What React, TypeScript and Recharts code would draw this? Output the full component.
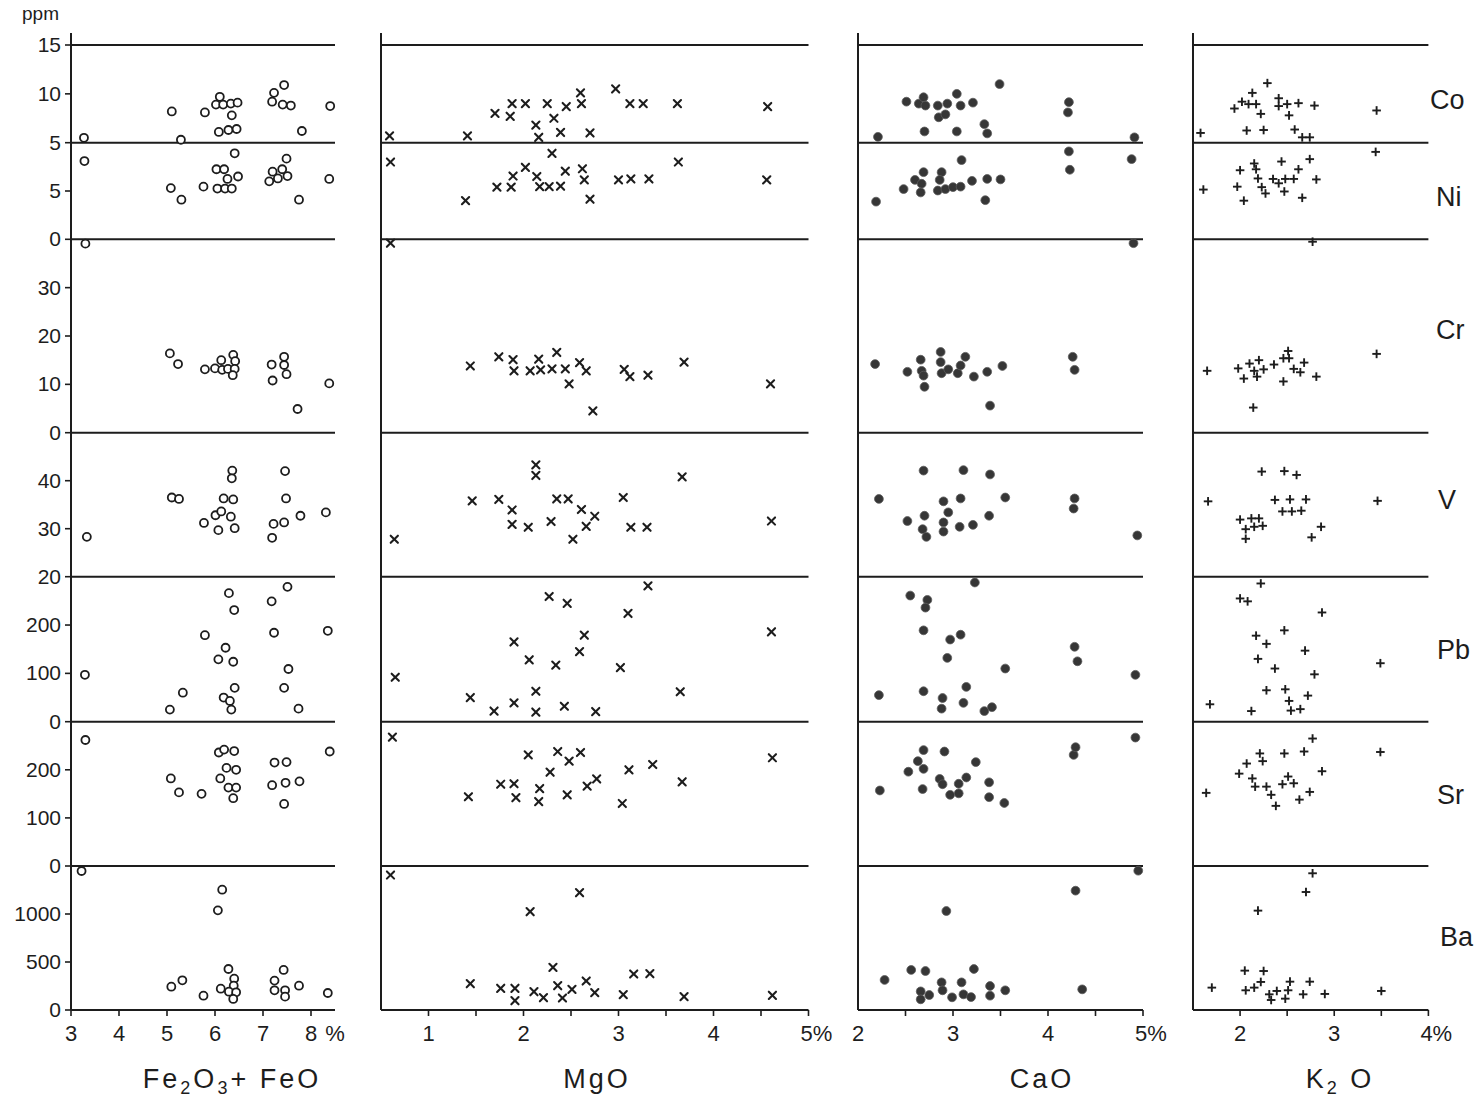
import React from 'react';
import { ScatterChart, Scatter, XAxis, YAxis, ReferenceLine } from 'recharts';

type P = [number, number];

// ---------- data: Fe2O3 + FeO (%) vs ppm ----------
const feCo: P[] = [[3.27,5.5],[5.10,8.2],[5.29,5.3],[5.79,8.1],[6.02,8.9],[6.10,9.7],[6.17,8.9],[6.33,9.0],[6.47,9.1],[6.35,7.8],[6.08,6.1],[6.28,6.3],[6.45,6.4],[7.19,9.2],[7.23,10.1],[7.44,10.9],[7.41,8.9],[7.58,8.8],[7.81,6.2],[8.40,8.75]];
const feNi: P[] = [[3.28,8.1],[5.08,5.3],[5.30,4.1],[5.76,5.45],[6.05,5.25],[6.21,5.25],[6.35,5.25],[6.03,7.25],[6.19,7.25],[6.26,6.25],[6.48,6.5],[6.41,8.9],[7.13,6.0],[7.20,7.0],[7.31,6.3],[7.40,7.25],[7.51,6.55],[7.49,8.35],[7.75,4.1],[8.38,6.25]];
const feCr: P[] = [[3.30,39.1],[5.06,16.4],[5.23,14.2],[5.79,13.1],[6.00,13.3],[6.13,15.0],[6.15,13.0],[6.27,13.2],[6.38,16.1],[6.42,14.8],[6.41,13.2],[6.37,11.9],[7.18,14.1],[7.20,10.8],[7.44,15.7],[7.44,14.0],[7.49,12.1],[7.72,4.9],[8.38,10.2]];
const feV: P[] = [[3.33,28.3],[5.10,36.5],[5.25,36.2],[6.36,42.1],[6.35,40.5],[6.18,36.3],[6.38,36.1],[5.77,31.2],[6.01,32.8],[6.13,33.6],[6.33,32.5],[6.07,29.7],[6.41,30.1],[7.46,42.0],[7.48,36.3],[7.22,31.0],[7.44,31.3],[7.78,32.7],[7.19,28.1],[8.31,33.4]];
const fePb: P[] = [[3.29,97],[5.06,25],[5.33,60],[5.79,179],[6.07,129],[6.22,153],[6.38,124],[6.29,266],[6.40,231],[6.18,50],[6.31,43],[6.41,70],[6.34,25],[7.51,279],[7.18,249],[7.23,184],[7.53,109],[7.44,70],[7.74,27],[8.35,188]];
const feSr: P[] = [[3.30,262],[5.08,182],[5.25,153],[5.72,150],[6.08,236],[6.19,242],[6.40,239],[6.24,204],[6.44,200],[6.11,182],[6.28,163],[6.44,163],[6.38,141],[7.24,215],[7.49,216],[7.19,168],[7.47,173],[7.76,176],[7.44,129],[8.39,238]];
const feBa: P[] = [[3.22,1448],[6.15,1253],[6.06,1038],[5.09,243],[5.32,309],[5.76,149],[6.12,222],[6.28,427],[6.40,326],[6.39,253],[6.29,191],[6.44,184],[6.38,115],[7.24,306],[7.24,205],[7.43,417],[7.46,205],[7.46,139],[7.75,253],[8.35,177]];

// ---------- data: MgO (%) ----------
const mgCo: P[] = [[0.59,5.7],[1.41,5.7],[1.70,8.0],[1.86,7.7],[1.88,9.0],[2.02,9.0],[2.25,9.0],[2.45,8.7],[2.60,10.1],[2.61,9.0],[2.13,6.8],[2.16,5.55],[2.32,7.5],[2.39,6.05],[2.70,6.0],[2.97,10.5],[3.12,9.0],[3.26,9.0],[3.62,9.0],[4.57,8.7]];
const mgNi: P[] = [[0.60,8.0],[1.39,4.0],[1.72,5.4],[1.87,5.4],[1.89,6.55],[2.02,7.45],[2.14,6.5],[2.17,5.45],[2.27,5.45],[2.39,5.5],[2.30,8.9],[2.44,7.05],[2.62,7.3],[2.64,6.15],[2.70,4.15],[3.00,6.15],[3.13,6.25],[3.32,6.25],[3.63,8.0],[4.56,6.15]];
const mgCr: P[] = [[0.60,39.2],[1.44,13.8],[1.74,15.7],[1.89,15.1],[1.90,12.8],[2.07,12.8],[2.16,15.2],[2.18,13.0],[2.30,13.2],[2.35,16.6],[2.44,13.2],[2.48,10.1],[2.59,14.5],[2.66,12.8],[2.73,4.5],[3.06,13.1],[3.12,11.6],[3.31,11.9],[3.69,14.6],[4.60,10.1]];
const mgV: P[] = [[0.64,27.8],[1.46,35.8],[1.74,36.1],[1.88,33.9],[1.88,30.9],[2.05,30.3],[2.13,43.3],[2.13,41.1],[2.29,31.5],[2.35,36.2],[2.47,36.2],[2.52,27.8],[2.61,34.0],[2.66,30.5],[2.75,32.6],[3.05,36.5],[3.13,30.3],[3.30,30.3],[3.67,40.8],[4.61,31.6]];
const mgPb: P[] = [[0.65,92],[1.44,50],[1.69,22],[1.90,39],[1.90,165],[2.06,128],[2.13,63],[2.13,20],[2.27,259],[2.34,117],[2.43,32],[2.46,245],[2.59,145],[2.64,179],[2.76,21],[3.02,112],[3.10,224],[3.31,281],[3.65,62],[4.61,186]];
const mgSr: P[] = [[0.62,268],[2.05,231],[2.36,238],[2.48,218],[2.60,236],[2.28,195],[1.76,170],[1.90,171],[1.42,144],[1.92,142],[2.17,161],[2.16,134],[2.46,148],[2.67,166],[2.77,181],[3.11,200],[3.04,130],[3.36,211],[3.67,175],[4.62,225]];
const mgBa: P[] = [[0.60,1406],[2.59,1222],[2.07,1024],[2.31,444],[1.44,274],[1.76,226],[1.91,226],[1.91,97],[2.11,191],[2.21,128],[2.36,253],[2.41,125],[2.51,215],[2.66,302],[2.75,181],[3.05,160],[3.16,375],[3.33,378],[3.69,139],[4.62,153]];

// ---------- data: CaO (%) ----------
const caCo: P[] = [[2.21,5.6],[2.51,9.2],[2.64,9.0],[2.69,9.65],[2.71,8.8],[2.84,8.8],[2.94,9.0],[3.04,10.0],[3.08,8.8],[3.21,9.1],[2.85,7.6],[2.92,7.9],[2.70,6.15],[3.04,6.15],[3.33,6.9],[3.36,5.95],[3.49,11.0],[4.22,9.15],[4.21,8.1],[4.91,5.55]];
const caNi: P[] = [[2.19,3.9],[2.48,5.2],[2.60,6.15],[2.69,6.95],[2.67,5.75],[2.66,4.85],[2.88,6.95],[2.86,6.15],[2.84,5.05],[2.92,5.2],[3.00,5.4],[3.08,5.45],[3.09,8.2],[3.20,6.05],[3.36,6.25],[3.50,6.2],[3.34,4.05],[4.22,9.1],[4.23,7.2],[4.88,8.3]];
const caCr: P[] = [[4.90,39.2],[2.18,14.2],[2.52,12.6],[2.66,15.1],[2.67,12.8],[2.69,11.8],[2.70,9.5],[2.87,16.7],[2.87,14.6],[2.88,12.3],[2.95,13.1],[3.05,12.3],[3.08,13.9],[3.13,15.7],[3.22,11.6],[3.36,12.6],[3.52,13.8],[3.39,5.6],[4.26,15.7],[4.28,13.0]];
const caV: P[] = [[2.22,36.2],[2.69,42.1],[3.11,42.2],[3.39,41.3],[3.08,36.3],[2.90,35.7],[3.55,36.5],[2.95,33.4],[2.70,32.7],[2.52,31.6],[2.90,31.3],[3.38,32.7],[2.68,29.9],[2.72,28.3],[2.90,29.4],[3.07,30.4],[3.21,30.8],[4.28,36.3],[4.27,34.2],[4.94,28.6]];
const caPb: P[] = [[3.23,288],[2.55,261],[2.73,252],[2.71,236],[2.69,189],[2.97,170],[3.08,180],[2.94,132],[3.55,110],[4.28,155],[4.31,125],[4.92,97],[2.22,55],[2.69,63],[2.89,49],[2.88,27],[3.14,72],[3.11,39],[3.33,22],[3.41,30]];
const caSr: P[] = [[2.23,157],[2.53,196],[2.63,218],[2.69,241],[2.69,202],[2.68,160],[2.91,238],[2.86,181],[2.89,170],[2.97,148],[3.06,171],[3.06,151],[3.14,184],[3.24,216],[3.38,174],[3.38,143],[3.54,131],[4.27,231],[4.29,247],[4.92,267]];
const caBa: P[] = [[4.95,1451],[4.29,1243],[2.93,1031],[2.28,313],[2.56,417],[2.71,406],[3.22,427],[2.88,288],[3.09,288],[2.66,194],[2.66,111],[2.75,156],[2.89,205],[2.99,132],[3.11,163],[3.19,135],[3.39,250],[3.39,149],[3.55,205],[4.36,215]];

// ---------- data: K2O (%) ----------
const kCo: P[] = [[1.58,6.0],[1.94,8.5],[2.02,9.2],[2.09,8.95],[2.17,8.95],[2.13,10.1],[2.22,7.95],[2.29,11.1],[2.41,9.55],[2.41,8.75],[2.50,8.95],[2.62,9.05],[2.79,8.8],[2.52,7.8],[2.07,6.25],[2.25,6.3],[2.58,6.35],[2.66,5.55],[2.74,5.55],[3.45,8.3]];
const kNi: P[] = [[1.61,5.15],[2.00,7.15],[1.97,5.45],[2.04,4.0],[2.15,7.85],[2.17,7.25],[2.19,6.3],[2.23,5.4],[2.27,4.75],[2.35,6.25],[2.41,5.8],[2.44,8.05],[2.48,6.25],[2.57,6.25],[2.47,4.95],[2.62,7.25],[2.74,8.3],[2.81,6.2],[2.66,4.3],[3.44,9.05]];
const kCr: P[] = [[2.77,39.5],[1.65,12.8],[1.98,13.3],[2.04,11.2],[2.10,14.3],[2.15,12.8],[2.20,15.0],[2.18,11.6],[2.25,13.1],[2.36,14.1],[2.46,15.4],[2.51,16.9],[2.52,15.4],[2.57,13.2],[2.64,12.5],[2.68,14.5],[2.46,10.6],[2.81,11.6],[2.14,5.2],[3.45,16.3]];
const kV: P[] = [[1.66,35.7],[2.23,41.9],[2.47,42.0],[2.60,41.2],[2.37,36.0],[2.53,36.1],[2.70,36.1],[2.45,33.6],[2.55,33.6],[2.65,33.75],[2.00,31.9],[2.12,32.15],[2.20,32.15],[2.15,30.4],[2.24,30.6],[2.06,29.9],[2.06,27.9],[2.86,30.4],[2.76,28.2],[3.46,35.8]];
const kPb: P[] = [[2.22,286],[2.00,255],[2.08,249],[2.87,226],[2.47,189],[2.17,178],[2.28,161],[2.69,147],[2.19,130],[2.37,110],[2.79,98],[3.49,121],[2.28,65],[2.48,67],[2.72,54],[2.52,43],[2.54,23],[2.64,26],[2.12,22],[1.68,36]];
const kSr: P[] = [[1.64,152],[1.99,192],[2.07,213],[2.21,234],[2.24,218],[2.13,182],[2.16,165],[2.28,165],[2.33,148],[2.38,125],[2.47,234],[2.45,170],[2.51,186],[2.57,172],[2.63,138],[2.68,238],[2.77,265],[2.74,154],[2.87,197],[3.49,237]];
const kBa: P[] = [[2.77,1424],[2.70,1229],[2.19,1035],[2.05,410],[2.25,406],[1.70,233],[2.06,205],[2.15,233],[2.22,292],[2.31,163],[2.33,104],[2.39,198],[2.48,118],[2.51,205],[2.53,295],[2.67,163],[2.74,295],[2.90,167],[3.50,198]];

// ---------- axes ----------
const ROW_NAMES = ['Co', 'Ni', 'Cr', 'V', 'Pb', 'Sr', 'Ba'];
const ROW_MIN = [5, 0, 0, 20, 0, 0, 0];
const ROW_MAX = [15, 10, 40, 50, 300, 300, 1500];
const ROW_TICKS = [[15, 10, 5], [5, 0], [30, 20, 10, 0], [40, 30, 20], [200, 100, 0], [200, 100, 0], [1000, 500, 0]];

const FE_DOMAIN = [3, 8.5];
const MG_DOMAIN = [0.5, 5];
const CA_DOMAIN = [2, 5];
const K_DOMAIN = [1.5, 4];
const FE_MARKS = [3, 4, 5, 6, 7, 8];
const MG_MARKS = [1, 1.5, 2, 2.5, 3, 3.5, 4, 4.5, 5];
const CA_MARKS = [2.5, 3, 3.5, 4, 4.5, 5];
const K_MARKS = [2, 2.5, 3, 3.5, 4];
const FE_LABEL_AT = [3, 4, 5, 6, 7, 8, 8.5];
const FE_LABELS = ['3', '4', '5', '6', '7', '8', '%'];
const MG_LABEL_AT = [1, 2, 3, 4, 5];
const MG_LABELS = ['1', '2', '3', '4', '5%'];
const CA_LABEL_AT = [2, 3, 4, 5];
const CA_LABELS = ['2', '3', '4', '5%'];
const K_LABEL_AT = [2, 3, 4];
const K_LABELS = ['2', '3', '4%'];

// ---------- layout (pixels) ----------
const PLOT_TOP = 33;
const PLOT_BOTTOM = 1010;
const ROW_TOP_PX = [45, 142.7, 239.3, 432.7, 576.7, 721.7, 866];
const ROW_BOTTOM_PX = [142.7, 239.3, 432.7, 576.7, 721.7, 866, 1010];
const FONT = '"Liberation Sans", Arial, Helvetica, sans-serif';
const INK = '#1d1d1d';

function rowDomain(i: number): [number, number] {
  const ppu = (ROW_BOTTOM_PX[i] - ROW_TOP_PX[i]) / (ROW_MAX[i] - ROW_MIN[i]);
  return [ROW_MIN[i] - (PLOT_BOTTOM - ROW_BOTTOM_PX[i]) / ppu, ROW_MAX[i] + (ROW_TOP_PX[i] - PLOT_TOP) / ppu];
}

const OpenCircle = (p: any) => (
  <circle cx={p.cx} cy={p.cy} r={4} fill="#fff" stroke={INK} strokeWidth={1.8} />
);
const Cross = (p: any) => {
  const s = 3.6;
  return (
    <g stroke={INK} strokeWidth={2.1} strokeLinecap="round">
      <line x1={p.cx - s} y1={p.cy - s} x2={p.cx + s} y2={p.cy + s} />
      <line x1={p.cx - s} y1={p.cy + s} x2={p.cx + s} y2={p.cy - s} />
    </g>
  );
};
const Dot = (p: any) => (
  <circle cx={p.cx} cy={p.cy} r={4.4} fill="#363636" stroke="#5a5a5a" strokeWidth={0.8} />
);
const Plus = (p: any) => {
  const s = 4.3;
  return (
    <g stroke={INK} strokeWidth={1.9}>
      <line x1={p.cx - s} y1={p.cy} x2={p.cx + s} y2={p.cy} />
      <line x1={p.cx} y1={p.cy - s} x2={p.cx} y2={p.cy + s} />
    </g>
  );
};

interface ColCfg {
  domain: number[];
  plotLeft: number;
  plotWidth: number;
  shape: (p: any) => React.ReactElement;
  series: P[][];
  marks: number[];
  labelAt: number[];
  labels: string[];
  showY: boolean;
}

const COLUMNS: ColCfg[] = [
  { domain: FE_DOMAIN, plotLeft: 71, plotWidth: 264, shape: OpenCircle, series: [feCo, feNi, feCr, feV, fePb, feSr, feBa], marks: FE_MARKS, labelAt: FE_LABEL_AT, labels: FE_LABELS, showY: true },
  { domain: MG_DOMAIN, plotLeft: 380.8, plotWidth: 427.5, shape: Cross, series: [mgCo, mgNi, mgCr, mgV, mgPb, mgSr, mgBa], marks: MG_MARKS, labelAt: MG_LABEL_AT, labels: MG_LABELS, showY: false },
  { domain: CA_DOMAIN, plotLeft: 858.3, plotWidth: 285, shape: Dot, series: [caCo, caNi, caCr, caV, caPb, caSr, caBa], marks: CA_MARKS, labelAt: CA_LABEL_AT, labels: CA_LABELS, showY: false },
  { domain: K_DOMAIN, plotLeft: 1192.9, plotWidth: 235.4, shape: Plus, series: [kCo, kNi, kCr, kV, kPb, kSr, kBa], marks: K_MARKS, labelAt: K_LABEL_AT, labels: K_LABELS, showY: false },
];

const Y_AXIS_W = 1;
const M_LEFT_FIRST = 71 - ROW_NAMES.length * Y_AXIS_W;
const M_LEFT = 14;
const M_RIGHT = 34;
const X_AXIS_H = 44;
const M_BOTTOM = 6;

function Column({ cfg }: { cfg: ColCfg }) {
  const mLeft = cfg.showY ? M_LEFT_FIRST : M_LEFT;
  const offsetLeft = cfg.showY ? mLeft + ROW_NAMES.length * Y_AXIS_W : mLeft;
  const width = offsetLeft + cfg.plotWidth + M_RIGHT;
  const height = PLOT_TOP + (PLOT_BOTTOM - PLOT_TOP) + X_AXIS_H + M_BOTTOM;
  const xTicks = Array.from(new Set([...cfg.marks, ...cfg.labelAt])).sort((a, b) => a - b);

  const renderXTick = (p: any) => {
    const v = p.payload.value;
    const idx = cfg.labelAt.indexOf(v);
    const hasMark = cfg.marks.includes(v);
    const lab = idx >= 0 ? cfg.labels[idx] : null;
    const anchorStart = lab !== null && lab.length > 1;
    return (
      <g>
        {hasMark && <line x1={p.x} x2={p.x} y1={p.y} y2={p.y + 6} stroke={INK} strokeWidth={1.6} />}
        {lab !== null && (
          <text x={anchorStart ? p.x - 8 : p.x} y={p.y + 31} textAnchor={anchorStart ? 'start' : 'middle'} fontSize={22} fontFamily={FONT} fill={INK}>
            {lab}
          </text>
        )}
      </g>
    );
  };

  const renderYTick = (p: any) => (
    <g>
      <line x1={offsetLeft - 6} x2={offsetLeft} y1={p.y} y2={p.y} stroke={INK} strokeWidth={1.6} />
      <text x={offsetLeft - 10} y={p.y} dy={7} textAnchor="end" fontSize={21} fontFamily={FONT} fill={INK}>
        {p.payload.value}
      </text>
    </g>
  );

  const rows = cfg.series.map((s) => s.map(([x, y]) => ({ x, y })));

  return (
    <div style={{ position: 'absolute', left: cfg.plotLeft - offsetLeft, top: 0 }}>
      <ScatterChart width={width} height={height} margin={{ top: PLOT_TOP, right: M_RIGHT, bottom: M_BOTTOM, left: mLeft }}>
        <XAxis
          type="number"
          dataKey="x"
          domain={cfg.domain}
          ticks={xTicks}
          interval={0}
          height={X_AXIS_H}
          tickSize={0}
          tickMargin={0}
          tickLine={false}
          axisLine={{ stroke: INK, strokeWidth: 2 }}
          tick={renderXTick}
        />
        {ROW_NAMES.map((name, i) => (
          <YAxis
            key={name}
            yAxisId={name}
            type="number"
            dataKey="y"
            domain={rowDomain(i)}
            ticks={ROW_TICKS[i]}
            interval={0}
            width={Y_AXIS_W}
            hide={!cfg.showY}
            axisLine={false}
            tickLine={false}
            tickSize={6}
            tickMargin={4}
            tick={renderYTick}
          />
        ))}
        <ReferenceLine x={cfg.domain[0]} yAxisId="Co" stroke={INK} strokeWidth={2} ifOverflow="visible" />
        {ROW_NAMES.map((name, i) => (
          <ReferenceLine key={'l' + name} y={ROW_MAX[i]} yAxisId={name} stroke={INK} strokeWidth={2} ifOverflow="visible" />
        ))}
        {ROW_NAMES.map((name, i) => (
          <Scatter key={'s' + name} name={name} data={rows[i]} yAxisId={name} shape={cfg.shape} isAnimationActive={false} />
        ))}
      </ScatterChart>
    </div>
  );
}

const ROW_LABEL_POS: [string, number, number][] = [
  ['Co', 1430, 84],
  ['Ni', 1436, 181],
  ['Cr', 1436, 314],
  ['V', 1438, 484],
  ['Pb', 1437, 634],
  ['Sr', 1437, 779],
  ['Ba', 1440, 921],
];

export default function App() {
  const titleStyle: React.CSSProperties = {
    position: 'absolute',
    top: 1064,
    fontFamily: FONT,
    fontSize: 27,
    letterSpacing: 3,
    color: INK,
    textAlign: 'center',
    width: 300,
    whiteSpace: 'nowrap',
  };
  const sub: React.CSSProperties = { fontSize: 18, verticalAlign: -6, lineHeight: 0 };
  return (
    <div style={{ position: 'absolute', left: 0, top: 0, width: 1481, height: 1108, background: '#fff', overflow: 'hidden' }}>
      {COLUMNS.map((c, i) => (
        <Column key={i} cfg={c} />
      ))}
      <div style={{ position: 'absolute', left: 22, top: 3, fontFamily: FONT, fontSize: 19, color: INK }}>ppm</div>
      {ROW_LABEL_POS.map(([t, x, y]) => (
        <div key={t} style={{ position: 'absolute', left: x, top: y, fontFamily: FONT, fontSize: 27, color: INK, lineHeight: '32px' }}>
          {t}
        </div>
      ))}
      <div style={{ ...titleStyle, left: 232 - 150 }}>
        Fe<span style={sub}>2</span>O<span style={sub}>3</span>+ FeO
      </div>
      <div style={{ ...titleStyle, left: 597 - 150 }}>MgO</div>
      <div style={{ ...titleStyle, left: 1042 - 150 }}>CaO</div>
      <div style={{ ...titleStyle, left: 1340 - 150 }}>
        K<span style={sub}>2</span> O
      </div>
    </div>
  );
}
